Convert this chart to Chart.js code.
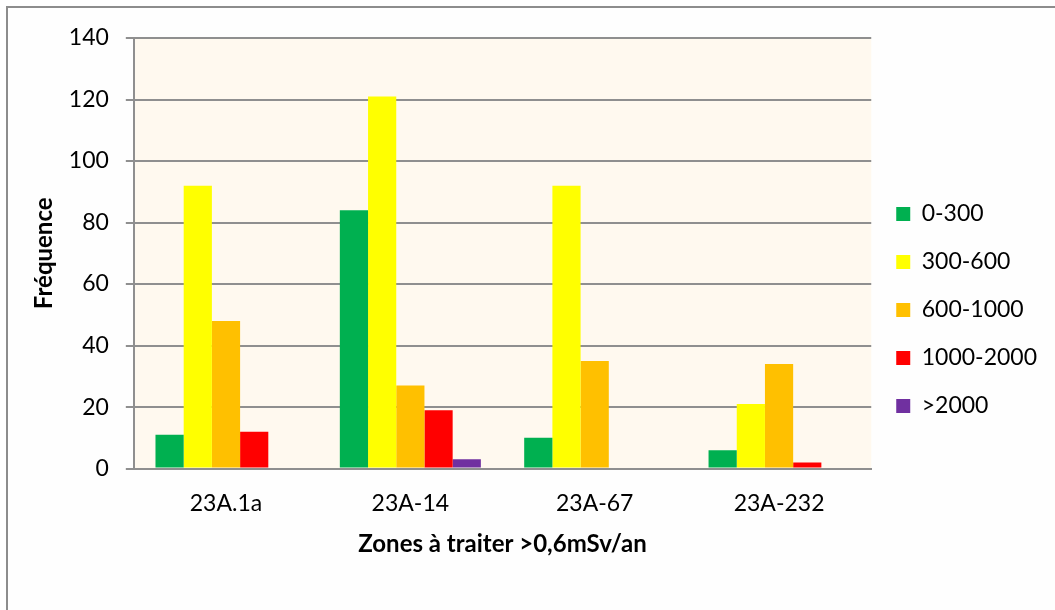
<!DOCTYPE html>
<html>
<head>
<meta charset="utf-8">
<script src="https://cdn.jsdelivr.net/npm/chart.js@4/dist/chart.umd.min.js"></script>
<style>
    html, body { margin: 0; padding: 0; background: #fefefe; overflow: hidden; }
    #frame {
        position: absolute; left: 6px; top: 6px;
        width: 1200px; height: 800px;
        border: 2px solid #8c8c8c;
        box-sizing: border-box;
    }
    #wrap { position: absolute; left: 0; top: 0; width: 1055px; height: 610px; }
</style>
</head>
<body>
<div id="frame"></div>
<div id="wrap"><canvas id="graph"></canvas></div>
<script>
// Data
const zones = ["23A.1a", "23A-14", "23A-67", "23A-232"];
const seriesNames = ["0-300", "300-600", "600-1000", "1000-2000", ">2000"];
const seriesColors = ["#00B050", "#FFFF00", "#FFC000", "#FF0000", "#7030A0"];
const freq0to300 = [11, 84, 10, 6];
const freq300to600 = [92, 121, 92, 21];
const freq600to1000 = [48, 27, 35, 34];
const freq1000to2000 = [12, 19, 0, 2];
const freqOver2000 = [0, 3, 0, 0];
const yTicks = [0, 20, 40, 60, 80, 100, 120, 140];

const seriesValues = [freq0to300, freq300to600, freq600to1000, freq1000to2000, freqOver2000];

// beige fill behind the plot area
const plotBackground = {
    id: "plotBackground",
    beforeDraw(chart) {
        const { ctx, chartArea } = chart;
        ctx.save();
        ctx.fillStyle = "#FFF9EF";
        ctx.fillRect(chartArea.left, chartArea.top, chartArea.right - chartArea.left, chartArea.bottom - chartArea.top);
        ctx.restore();
    }
};

const gridGray = "#8f8f8f";
const fontFamily = "Lato, 'Noto Sans', sans-serif";

const ctx = document.getElementById("graph").getContext("2d");
new Chart(ctx, {
    type: "bar",
    data: {
        labels: zones,
        datasets: seriesNames.map((name, i) => ({
            label: name,
            data: seriesValues[i],
            backgroundColor: seriesColors[i],
            borderWidth: 0,
            barPercentage: 1,
            categoryPercentage: 0.765
        }))
    },
    options: {
        responsive: true,
        maintainAspectRatio: false,
        animation: false,
        layout: {
            padding: { top: 38, left: 30, right: 8, bottom: 28 }
        },
        scales: {
            x: {
                grid: { display: false, drawTicks: false },
                border: { display: true, color: gridGray, width: 2 },
                ticks: {
                    color: "#000",
                    padding: 21,
                    font: { family: fontFamily, size: 23 }
                },
                title: {
                    display: true,
                    text: "Zones à traiter >0,6mSv/an",
                    color: "#000",
                    font: { family: fontFamily, size: 24, weight: "bold" },
                    padding: { top: -8, bottom: 23 }
                }
            },
            y: {
                min: 0,
                max: 140,
                afterBuildTicks: (scale) => {
                    scale.ticks = yTicks.map(v => ({ value: v }));
                },
                grid: {
                    color: gridGray,
                    lineWidth: 2,
                    drawTicks: true,
                    tickLength: 8
                },
                border: { display: true, color: gridGray, width: 2 },
                ticks: {
                    color: "#000",
                    padding: 17,
                    font: { family: fontFamily, size: 23 }
                },
                title: {
                    display: true,
                    text: "Fréquence",
                    color: "#000",
                    font: { family: fontFamily, size: 24, weight: "bold" },
                    padding: { top: 0, bottom: -7 }
                }
            }
        },
        plugins: {
            legend: {
                position: "right",
                align: "center",
                labels: {
                    color: "#000",
                    boxWidth: 14,
                    boxHeight: 14,
                    padding: 25,
                    font: { family: fontFamily, size: 23 }
                }
            },
            tooltip: { enabled: false }
        }
    },
    plugins: [plotBackground]
});
</script>
</body>
</html>
